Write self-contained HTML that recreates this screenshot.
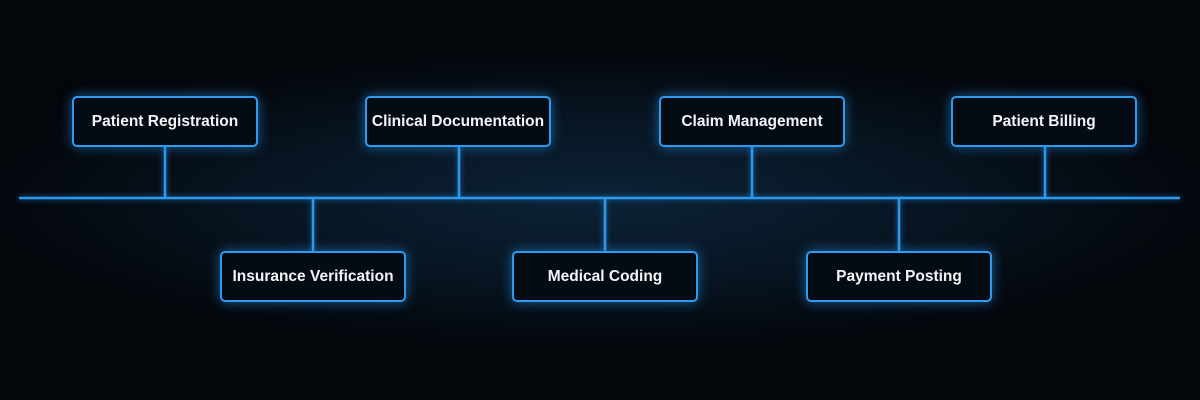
<!DOCTYPE html>
<html><head><style>
body{margin:0;width:1200px;height:400px;overflow:hidden;background:#03070c;font-family:"Liberation Sans",sans-serif;}
.bg{position:absolute;inset:0;background:radial-gradient(ellipse 700px 170px at 600px 200px,#0c2236 0%,#081624 45%,#04090f 80%,#03060a 100%);}
.box{position:absolute;width:186px;height:51px;border:2px solid #2f9bf0;border-radius:5px;background:#050b13;color:#f2f5f8;font-weight:bold;font-size:15.5px;display:flex;align-items:center;justify-content:center;box-shadow:0 0 12px rgba(40,150,240,.6);box-sizing:border-box;}
svg{position:absolute;left:0;top:0;filter:drop-shadow(0 0 3px rgba(40,150,240,.7));}
</style></head><body>
<div class="bg"></div>
<svg width="1200" height="400">
<g stroke="#2a9af0" stroke-width="2.5" fill="none">
<line x1="19" y1="198" x2="1180" y2="198"/>
<line x1="165" y1="146" x2="165" y2="198"/>
<line x1="459" y1="146" x2="459" y2="198"/>
<line x1="752" y1="146" x2="752" y2="198"/>
<line x1="1045" y1="146" x2="1045" y2="198"/>
<line x1="313" y1="198" x2="313" y2="251"/>
<line x1="605" y1="198" x2="605" y2="251"/>
<line x1="899" y1="198" x2="899" y2="251"/>
</g></svg>
<div class="box" style="left:72px;top:96px">Patient Registration</div>
<div class="box" style="left:365px;top:96px">Clinical Documentation</div>
<div class="box" style="left:659px;top:96px">Claim Management</div>
<div class="box" style="left:951px;top:96px">Patient Billing</div>
<div class="box" style="left:220px;top:251px">Insurance Verification</div>
<div class="box" style="left:512px;top:251px">Medical Coding</div>
<div class="box" style="left:806px;top:251px">Payment Posting</div>
</body></html>
